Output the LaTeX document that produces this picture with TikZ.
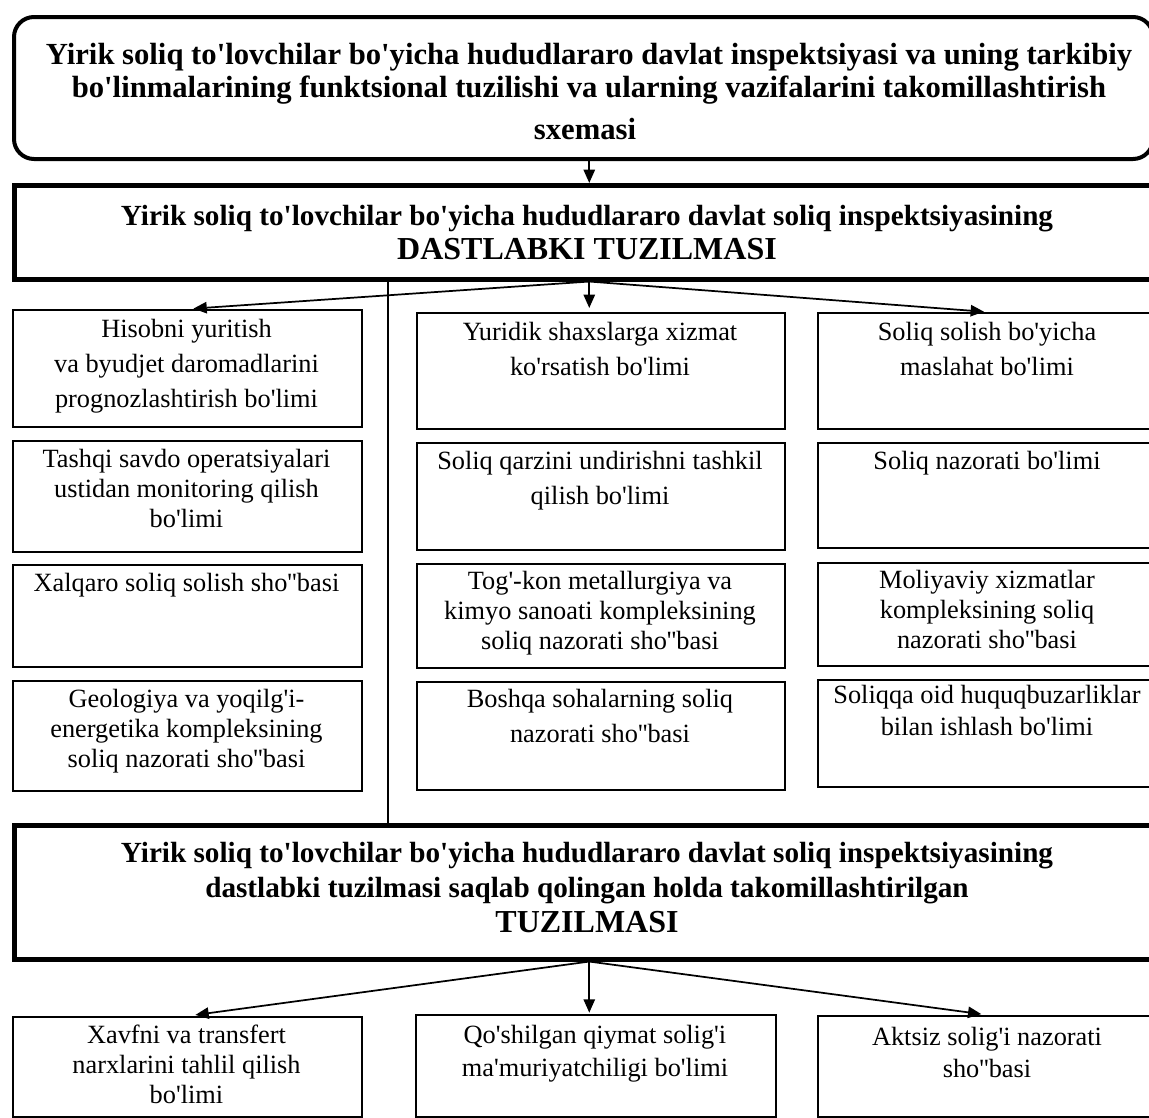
\documentclass[tikz,border=0pt]{standalone}
\usepackage{fontspec}
\setmainfont{Liberation Serif}[Ligatures=TeXOff]
\usetikzlibrary{arrows.meta}
\newcommand\mkbox[6]{\node[#1, minimum width={(#5-#3)*0.75pt}, minimum height={(#6-#4)*0.75pt}] (#2) at (#3,#4) {};}
\newcommand\mktext[5]{\node[celltxt,font={#4}] (#1) at (#2,{#3-24}) {\rule{0pt}{18pt}#5};}
\newcommand\cf[1]{\fontsize{19.75pt}{#1}\selectfont}
\newcommand\tf[1]{\bfseries\fontsize{23pt}{#1}\selectfont}
\newcommand\hf[1]{\bfseries\fontsize{21.9pt}{#1}\selectfont}
\newcommand\bigf{\bfseries\fontsize{24pt}{28pt}\selectfont}
\begin{document}
\begin{tikzpicture}[x=0.75pt,y=-0.75pt,
  cellbox/.style={draw,line width=1.4pt,inner sep=0pt,anchor=north west},
  headbox/.style={draw,line width=3.4pt,inner sep=0pt,anchor=north west},
  titlebox/.style={draw,line width=3pt,rounded corners=15pt,inner sep=0pt,anchor=north west},
  celltxt/.style={inner sep=0pt,anchor=north,align=center},
  arr/.style={-{Triangle[length=10pt,width=8.5pt]},line width=1.3pt},
  vline/.style={line width=1.3pt}]
\useasboundingbox (0,0) rectangle (1149,1117);
\clip (0,0) rectangle (1149,1117);
\fill[white] (0,0) rectangle (1149,1117);

% title
\mkbox{titlebox}{title}{12}{15}{1151}{157}
\mktext{t1}{589}{64}{\tf{24.75pt}}{Yirik soliq to'lovchilar bo'yicha hududlararo davlat inspektsiyasi va uning tarkibiy\\bo'linmalarining funktsional tuzilishi va ularning vazifalarini takomillashtirish}
\mktext{t3}{585}{139}{\tf{24.75pt}}{sxemasi}

% box 2
\mkbox{headbox}{box2}{12}{183}{1162}{277}
\mktext{b2a}{587}{225}{\hf{25pt}}{Yirik soliq to'lovchilar bo'yicha hududlararo davlat soliq inspektsiyasining}
\mktext{b2b}{587}{259}{\bigf}{DASTLABKI TUZILMASI}

% left column
\mkbox{cellbox}{l1}{12}{309}{361}{426}
\mktext{l1t}{186.5}{337}{\cf{26.25pt}}{Hisobni yuritish\\va byudjet daromadlarini\\prognozlashtirish bo'limi}
\mkbox{cellbox}{l2}{12}{440}{361}{551}
\mktext{l2t}{186.5}{467}{\cf{22.5pt}}{Tashqi savdo operatsiyalari\\ustidan monitoring qilish\\bo'limi}
\mkbox{cellbox}{l3}{12}{564}{361}{666}
\mktext{l3t}{186.5}{591}{\cf{22.5pt}}{Xalqaro soliq solish sho''basi}
\mkbox{cellbox}{l4}{12}{680}{361}{790}
\mktext{l4t}{186.5}{707}{\cf{22.5pt}}{Geologiya va yoqilg'i-\\energetika kompleksining\\soliq nazorati sho''basi}

% middle column
\mkbox{cellbox}{m1}{416}{312}{784}{428}
\mktext{m1t}{600}{340}{\cf{26.25pt}}{Yuridik shaxslarga xizmat\\ko'rsatish bo'limi}
\mkbox{cellbox}{m2}{416}{442}{784}{549}
\mktext{m2t}{600}{469}{\cf{26.25pt}}{Soliq qarzini undirishni tashkil\\qilish bo'limi}
\mkbox{cellbox}{m3}{416}{563}{784}{667}
\mktext{m3t}{600}{589}{\cf{22.5pt}}{Tog'-kon metallurgiya va\\kimyo sanoati kompleksining\\soliq nazorati sho''basi}
\mkbox{cellbox}{m4}{416}{681}{784}{789}
\mktext{m4t}{600}{707}{\cf{26.25pt}}{Boshqa sohalarning soliq\\nazorati sho''basi}

% right column
\mkbox{cellbox}{r1}{817}{312}{1157}{428}
\mktext{r1t}{987}{340}{\cf{26.25pt}}{Soliq solish bo'yicha\\maslahat bo'limi}
\mkbox{cellbox}{r2}{817}{442}{1157}{547}
\mktext{r2t}{987}{469}{\cf{26.25pt}}{Soliq nazorati bo'limi}
\mkbox{cellbox}{r3}{817}{562}{1157}{665}
\mktext{r3t}{987}{588}{\cf{22.5pt}}{Moliyaviy xizmatlar\\kompleksining soliq\\nazorati sho''basi}
\mkbox{cellbox}{r4}{817}{679}{1157}{786}
\mktext{r4t}{987}{703}{\cf{24pt}}{Soliqqa oid huquqbuzarliklar\\bilan ishlash bo'limi}

% box 3
\mkbox{headbox}{box3}{12}{823}{1162}{957}
\mktext{b3a}{587}{862}{\hf{26.25pt}}{Yirik soliq to'lovchilar bo'yicha hududlararo davlat soliq inspektsiyasining\\dastlabki tuzilmasi saqlab qolingan holda takomillashtirilgan}
\mktext{b3b}{587}{932}{\bigf}{TUZILMASI}

% bottom row
\mkbox{cellbox}{bl}{12}{1016}{361}{1116}
\mktext{blt}{186.5}{1043}{\cf{22.5pt}}{Xavfni va transfert\\narxlarini tahlil qilish\\bo'limi}
\mkbox{cellbox}{bm}{415}{1014}{775}{1116}
\mktext{bmt}{595}{1043}{\cf{24.75pt}}{Qo'shilgan qiymat solig'i\\ma'muriyatchiligi bo'limi}
\mkbox{cellbox}{br}{817}{1015}{1157}{1116}
\mktext{brt}{987}{1045}{\cf{24pt}}{Aktsiz solig'i nazorati\\sho''basi}

% connectors
\coordinate (vx) at (388,0);
\draw[vline] (box2.south -| vx) -- (box3.north -| vx);
\draw[arr] (title.south -| box2.north) -- (box2.north);
\draw[arr,shorten >=4.5pt] (box2.south) -- (l1.north);
\draw[arr,shorten >=3pt] (box2.south) -- (box2.south |- m1.north);
\draw[arr,shorten >=3pt] (box2.south) -- (r1.north);
\draw[arr,shorten >=6pt] (box3.south) -- (bl.north);
\draw[arr,shorten >=1pt] (box3.south) -- (box3.south |- bm.north);
\draw[arr,shorten >=5pt] (box3.south) -- (br.north);
\end{tikzpicture}
\end{document}
